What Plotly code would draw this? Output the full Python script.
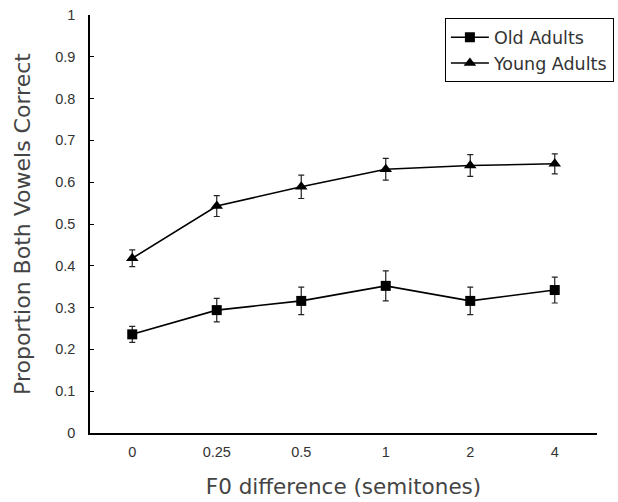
import plotly.graph_objects as go

categories = ["0", "0.25", "0.5", "1", "2", "4"]
old_values = [0.236, 0.294, 0.316, 0.352, 0.316, 0.342]
old_errors = [0.019, 0.028, 0.033, 0.036, 0.033, 0.031]
young_values = [0.418, 0.543, 0.589, 0.631, 0.640, 0.644]
young_errors = [0.020, 0.025, 0.028, 0.026, 0.026, 0.024]
y_ticks = [0, 0.1, 0.2, 0.3, 0.4, 0.5, 0.6, 0.7, 0.8, 0.9, 1]
y_ticklabels = ["0", "0.1", "0.2", "0.3", "0.4", "0.5", "0.6", "0.7", "0.8", "0.9", "1"]

fig = go.Figure()
fig.add_trace(go.Scatter(
    x=categories, y=old_values, name="Old Adults", mode="lines+markers",
    line=dict(color="black", width=1.6),
    marker=dict(symbol="square", size=10, color="black"),
    error_y=dict(type="data", array=old_errors, color="#222", thickness=1.2, width=3),
))
fig.add_trace(go.Scatter(
    x=categories, y=young_values, name="Young Adults", mode="lines+markers",
    line=dict(color="black", width=1.6),
    marker=dict(symbol="triangle-up", size=11, color="black"),
    error_y=dict(type="data", array=young_errors, color="#222", thickness=1.2, width=3),
))

fig.update_layout(
    width=618, height=502,
    margin=dict(l=90, r=21, t=15, b=69, autoexpand=False),
    plot_bgcolor="white", paper_bgcolor="white",
    showlegend=True,
    legend=dict(
        x=0.70, y=0.992, xanchor="left", yanchor="top",
        bordercolor="black", borderwidth=1, bgcolor="white",
        font=dict(family="DejaVu Sans", size=17.5, color="#333"),
        tracegroupgap=0, itemwidth=38,
        entrywidth=141, entrywidthmode="pixels",
    ),
    font=dict(family="Liberation Sans", color="#333"),
)
fig.update_xaxes(
    type="category", categoryorder="array", categoryarray=categories,
    range=[-0.5, 5.5], automargin=False,
    showline=True, linecolor="black", linewidth=1.5, mirror=False,
    showgrid=False, zeroline=False, ticks="",
    tickfont=dict(family="Liberation Sans", size=14.5, color="#333"),
    ticklabelstandoff=5,
    title=dict(text="F0 difference (semitones)", font=dict(family="DejaVu Sans", size=21.5, color="#444"), standoff=20),
)
fig.update_yaxes(
    range=[0, 1], tickvals=y_ticks, ticktext=y_ticklabels, automargin=False,
    showline=True, linecolor="black", linewidth=1.5,
    showgrid=False, zeroline=False,
    ticks="inside", ticklen=4, tickcolor="black", tickwidth=1,
    tickfont=dict(family="Liberation Sans", size=14.5, color="#333"),
    ticklabelstandoff=10,
    title=dict(text="Proportion Both Vowels Correct", font=dict(family="DejaVu Sans", size=22, color="#444"), standoff=18),
)

fig.write_html("out.html", config={"displayModeBar": False},
               post_script="document.body.style.margin='0';")
